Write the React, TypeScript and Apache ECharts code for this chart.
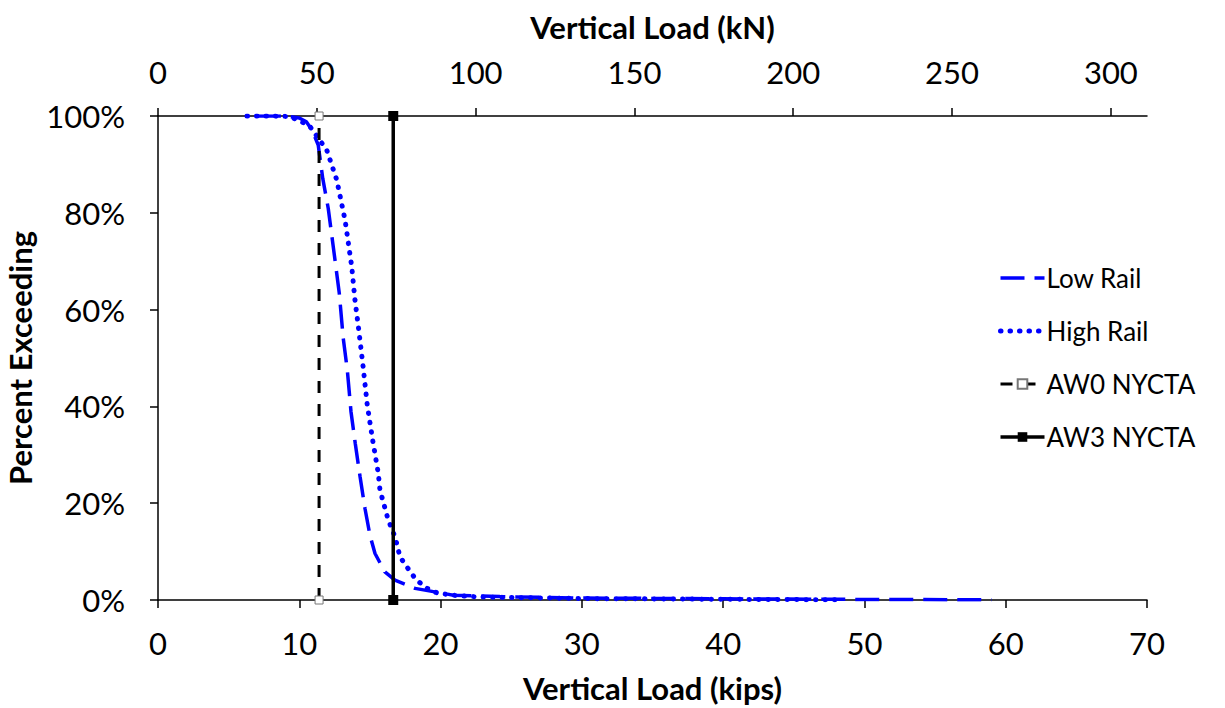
import React, { useEffect, useRef } from 'react';
import * as echarts from 'echarts';

const KIPS_TO_KN = 4.44822;
const X_MAX_KIPS = 70;

const lowRailX = [7, 9, 10, 10.5, 10.9, 11.34, 11.66, 12.05, 12.53, 12.83, 13.11, 13.4, 13.66, 13.96, 14.3, 14.65, 15.0, 15.36, 16.06, 16.77, 18.19, 20.9, 24.2, 30, 40, 50, 59];
const lowRailY = [100, 100, 99.6, 98.8, 97.1, 94, 87.1, 80.9, 70.2, 63.4, 54.1, 47.5, 38.9, 32.4, 25.5, 18.9, 13.4, 9.6, 5.8, 4.1, 2.4, 1.0, 0.7, 0.4, 0.25, 0.12, 0.05];

const highRailX = [6.3, 8, 9.3, 10.05, 10.76, 11.94, 12.65, 13.24, 13.71, 13.94, 14.18, 14.53, 14.81, 15.19, 15.59, 15.71, 16.3, 16.77, 17.13, 17.6, 18.19, 18.9, 19.72, 20.79, 22.3, 24.2, 30, 40, 48];
const highRailY = [100, 100, 99.9, 99.0, 97.8, 93.0, 86.8, 78.5, 68.9, 62.0, 56.5, 47.9, 40.3, 33.1, 26.2, 22.7, 16.5, 13.1, 8.9, 6.9, 4.5, 2.6, 1.5, 1.0, 0.7, 0.55, 0.3, 0.15, 0.05];

const aw0X = [11.4, 11.4];
const aw0Y = [0, 100];
const aw3X = [16.65, 16.65];
const aw3Y = [0, 100];

const seriesNames = ['Low Rail', 'High Rail', 'AW0 NYCTA', 'AW3 NYCTA'];

const FONT = 'Lato';

const zip = (xs: number[], ys: number[]) => xs.map((x, i) => [x, ys[i]]);

export default function App() {
  const ref = useRef<HTMLDivElement>(null);
  useEffect(() => {
    if (!ref.current) return;
    const chart = echarts.init(ref.current, undefined, { renderer: 'svg' });
    const axisLine = { show: true, lineStyle: { color: '#000', width: 1.5 } };
    const axisTick = { show: true, length: 8, lineStyle: { color: '#000', width: 1.5 } };
    const labelStyle = { color: '#000', fontSize: 31, fontFamily: FONT };
    const nameStyle = { color: '#000', fontSize: 31, fontWeight: 'bold' as const, fontFamily: FONT };
    chart.setOption({
      animation: false,
      backgroundColor: '#fff',
      grid: { left: 158, right: 78, top: 116, bottom: 108, containLabel: false, outerBoundsMode: 'none' },
      xAxis: [
        {
          type: 'value',
          position: 'bottom',
          min: 0,
          max: X_MAX_KIPS,
          interval: 10,
          name: 'Vertical Load (kips)',
          nameLocation: 'middle',
          nameGap: 72,
          nameTextStyle: nameStyle,
          axisLine,
          axisTick,
          splitLine: { show: false },
          axisLabel: { ...labelStyle, margin: 27 },
        },
        {
          type: 'value',
          position: 'top',
          min: 0,
          max: X_MAX_KIPS * KIPS_TO_KN,
          interval: 50,
          name: 'Vertical Load (kN)',
          nameLocation: 'middle',
          nameGap: 74,
          nameTextStyle: nameStyle,
          axisLine,
          axisTick,
          splitLine: { show: false },
          axisLabel: {
            ...labelStyle,
            margin: 29,
            showMaxLabel: false,
            formatter: (v: number) => (Math.abs(v % 50) < 1e-6 ? String(v) : ''),
          },
        },
      ],
      yAxis: {
        type: 'value',
        min: 0,
        max: 100,
        interval: 20,
        name: 'Percent Exceeding',
        nameLocation: 'middle',
        nameRotate: 90,
        nameGap: 111,
        nameTextStyle: nameStyle,
        axisLine,
        axisTick,
        splitLine: { show: false },
        axisLabel: { ...labelStyle, margin: 33, formatter: '{value}%' },
      },
      legend: {
        orient: 'vertical',
        left: 993,
        top: 260,
        itemWidth: 44,
        itemHeight: 12,
        itemGap: 27,
        lineStyle: { width: 'inherit' },
        data: [
          { name: seriesNames[0], itemStyle: { opacity: 0 } },
          { name: seriesNames[1], itemStyle: { opacity: 0 } },
          { name: seriesNames[2] },
          { name: seriesNames[3] },
        ],
        textStyle: { color: '#000', fontSize: 26, lineHeight: 26, fontFamily: FONT, padding: [0, 0, 0, -3] },
      },
      series: [
        {
          name: seriesNames[0],
          type: 'line',
          xAxisIndex: 0,
          data: zip(lowRailX, lowRailY),
          symbol: 'none',
          lineStyle: { color: '#0000ff', width: 3.5, type: [24, 10] },
          itemStyle: { color: '#0000ff' },
        },
        {
          name: seriesNames[1],
          type: 'line',
          xAxisIndex: 0,
          data: zip(highRailX, highRailY),
          symbol: 'none',
          lineStyle: { color: '#0000ff', width: 5, type: [0.5, 9], cap: 'round' },
          itemStyle: { color: '#0000ff' },
        },
        {
          name: seriesNames[2],
          type: 'line',
          xAxisIndex: 0,
          data: zip(aw0X, aw0Y),
          clip: false,
          symbol: 'rect',
          symbolSize: 8,
          lineStyle: { color: '#000', width: 3, type: [12, 11] },
          itemStyle: { color: '#fff', borderColor: '#777', borderWidth: 1 },
          z: 3,
        },
        {
          name: seriesNames[3],
          type: 'line',
          xAxisIndex: 0,
          data: zip(aw3X, aw3Y),
          clip: false,
          symbol: 'rect',
          symbolSize: 10,
          lineStyle: { color: '#000', width: 3.5 },
          itemStyle: { color: '#000' },
          z: 3,
        },
      ],
    });
    return () => chart.dispose();
  }, []);
  return <div ref={ref} style={{ width: 1225, height: 708, position: 'absolute', left: 0, top: 0 }} />;
}
